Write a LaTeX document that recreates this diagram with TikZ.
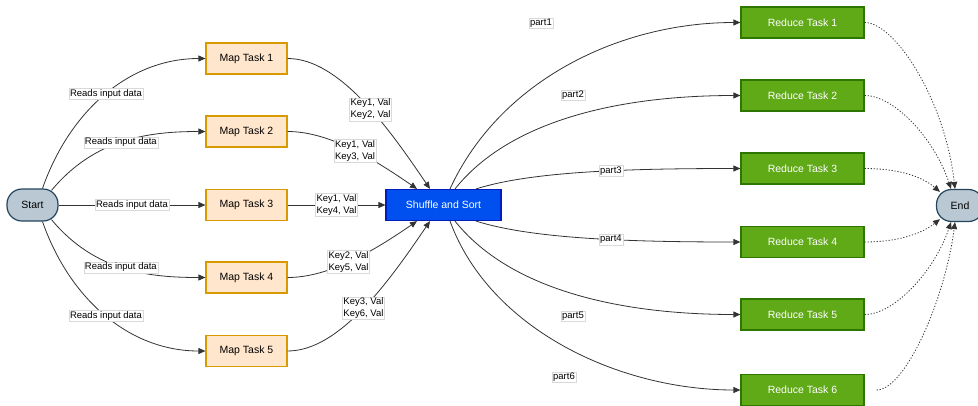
\documentclass[tikz,border=0pt]{standalone}
\usepackage{fontspec}
\setmainfont{Liberation Sans}
\usetikzlibrary{arrows.meta}
\definecolor{mapfill}{HTML}{FFE6CC}
\definecolor{mapdraw}{HTML}{D79B00}
\definecolor{shfill}{HTML}{0050EF}
\definecolor{shdraw}{HTML}{001DBC}
\definecolor{redfill}{HTML}{60A917}
\definecolor{reddraw}{HTML}{2D7600}
\definecolor{termfill}{HTML}{BAC8D3}
\definecolor{termdraw}{HTML}{23445D}
\begin{document}
\begin{tikzpicture}[x=1pt,y=-1pt,
  box/.style={draw,line width=1.2pt,minimum height=31pt,inner sep=0pt,font=\fontsize{10.5}{12}\selectfont},
  maptask/.style={box,fill=mapfill,draw=mapdraw,minimum width=81pt},
  redtask/.style={box,fill=redfill,draw=reddraw,text=white,minimum width=123pt},
  shuf/.style={box,fill=shfill,draw=shdraw,text=white,minimum width=115pt},
  term/.style={box,fill=termfill,draw=termdraw,rounded corners=15pt,minimum width=51pt,minimum height=32pt},
  conn/.style={draw=black!80,line width=0.8pt,-{Triangle[length=7pt,width=6pt]}},
  dconn/.style={conn,dash pattern=on 1.2pt off 1.8pt},
  elabel/.style={fill=white,draw=black!15,line width=0.3pt,inner sep=1pt,font=\fontsize{9.5}{12}\selectfont,align=center,text=black}
]
\useasboundingbox (0,0) rectangle (978,405);

\node[term] (start) at (32.5,205) {Start};
\node[term,minimum width=47pt] (end) at (960,205.5) {End};

\node[maptask] (m1) at (246.5,58.5) {Map Task 1};
\node[maptask] (m2) at (246.5,131.5) {Map Task 2};
\node[maptask] (m3) at (246.5,205) {Map Task 3};
\node[maptask] (m4) at (246.5,277.5) {Map Task 4};
\node[maptask] (m5) at (246.5,351) {Map Task 5};

\node[shuf] (sh) at (443.5,205) {Shuffle and Sort};

\node[redtask] (r1) at (802.5,22.5) {Reduce Task 1};
\node[redtask] (r2) at (802.5,95.5) {Reduce Task 2};
\node[redtask] (r3) at (802.5,168.5) {Reduce Task 3};
\node[redtask] (r4) at (802.5,242) {Reduce Task 4};
\node[redtask] (r5) at (802.5,314.5) {Reduce Task 5};
\node[redtask] (r6) at (802.5,390) {Reduce Task 6};

% Start -> Map tasks
\draw[conn] ([xshift=10pt]start.north) .. controls (70,110) and (130,58.5) .. (m1.west)
  node[elabel,pos=0.5] (l1) {Reads input data};
\draw[conn] ([xshift=19pt,yshift=-2pt]start.north) .. controls (95,138) and (150,131.5) .. (m2.west)
  node[elabel,pos=0.48] (l2) {Reads input data};
\draw[conn] (start.east) -- (m3.west) node[elabel,pos=0.5] (l3) {Reads input data};
\draw[conn] ([xshift=19pt,yshift=2pt]start.south) .. controls (95,272) and (150,277.5) .. (m4.west)
  node[elabel,pos=0.48] (l4) {Reads input data};
\draw[conn] ([xshift=10pt]start.south) .. controls (70,300) and (130,351) .. (m5.west)
  node[elabel,pos=0.5] (l5) {Reads input data};

% Map tasks -> Shuffle
\draw[conn] (m1.east) .. controls (340,58.5) and (390,130) .. ([xshift=-13.5pt]sh.north)
  node[elabel,pos=0.55] (k1) {Key1, Val\\Key2, Val};
\draw[conn] (m2.east) .. controls (330,131.5) and (375,160) .. ([xshift=-26.5pt]sh.north)
  node[elabel,pos=0.52] (k2) {Key1, Val\\Key3, Val};
\draw[conn] (m3.east) -- (sh.west) node[elabel,pos=0.5] (k3) {Key1, Val\\Key4, Val};
\draw[conn] (m4.east) .. controls (330,277.5) and (375,250) .. ([xshift=-26.5pt]sh.south)
  node[elabel,pos=0.47] (k4) {Key2, Val\\Key5, Val};
\draw[conn] (m5.east) .. controls (340,351) and (390,280) .. ([xshift=-13.5pt]sh.south)
  node[elabel,pos=0.5] (k5) {Key3, Val\\Key6, Val};

% Shuffle -> Reduce tasks
\draw[conn] ([xshift=6.5pt]sh.north) .. controls (500,80) and (620,22.5) .. (r1.west);
\draw[conn] ([xshift=11.5pt]sh.north) .. controls (510,120) and (620,95.5) .. (r2.west);
\draw[conn] ([xshift=32.5pt]sh.north) .. controls (530,172) and (620,168.5) .. (r3.west)
  node[elabel,pos=0.6] (p3) {part3};
\draw[conn] ([xshift=32.5pt]sh.south) .. controls (530,238) and (620,242) .. (r4.west)
  node[elabel,pos=0.6] (p4) {part4};
\draw[conn] ([xshift=11.5pt]sh.south) .. controls (510,290) and (620,314.5) .. (r5.west);
\draw[conn] ([xshift=6.5pt]sh.south) .. controls (490,330) and (620,390) .. (r6.west);
\node[elabel] (p1) at (541,23) {part1};
\node[elabel] (p2) at (573,95) {part2};
\node[elabel] (p5) at (573,316) {part5};
\node[elabel] (p6) at (564,377) {part6};

% Reduce tasks -> End
\draw[dconn] (r1.east) .. controls (895,22.5) and (945,100) .. ([xshift=-5pt]end.north);
\draw[dconn] (r2.east) .. controls (895,95.5) and (935,140) .. ([xshift=-9pt]end.north);
\draw[dconn] (r3.east) .. controls (895,168.5) and (920,175) .. ([xshift=-20pt,yshift=-3pt]end.north);
\draw[dconn] (r4.east) .. controls (895,242) and (920,235) .. ([xshift=-20pt,yshift=3pt]end.south);
\draw[dconn] (r5.east) .. controls (895,314.5) and (935,270) .. ([xshift=-9pt]end.south);
\draw[dconn] ([xshift=12pt]r6.east) .. controls (905,390) and (945,300) .. ([xshift=-5pt]end.south);
\end{tikzpicture}
\end{document}
